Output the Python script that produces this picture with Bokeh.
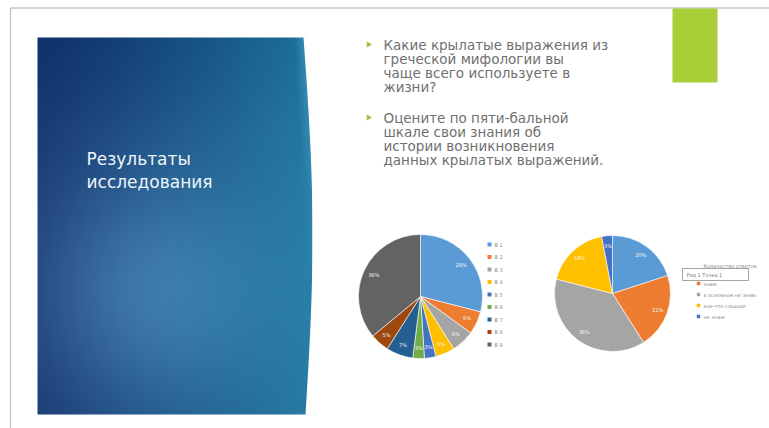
import numpy as np
from bokeh.plotting import figure
from bokeh.models import Range1d, ColumnDataSource
from bokeh.embed import file_html
from bokeh.resources import INLINE
from bokeh.core.properties import value

# ---------------- data ----------------
title_lines = ["Результаты", "исследования"]
bullet1 = ["Какие крылатые выражения из", "греческой мифологии вы",
           "чаще всего используете в", "жизни?"]
bullet2 = ["Оцените по пяти-бальной", "шкале свои знания об",
           "истории  возникновения", "данных крылатых выражений."]

q1_labels = ["В 1", "В 2", "В 3", "В 4", "В 5", "В 6", "В 7", "В 8", "В 9"]
q1_values = [29, 6, 6, 5, 3, 3, 7, 5, 36]

q2_labels = ["знаю всё", "знаю", "в основном не знаю", "кое-что слышал", "не знаю"]
q2_values = [20, 21, 38, 18, 3]

# ---------------- styles ----------------
palette = ["#5B9BD5", "#ED7D31", "#A5A5A5", "#FFC000", "#4472C4",
           "#70AD47", "#255E91", "#9E480E", "#636363"]
FONT = value("DejaVu Sans")
WW, HH = 769, 428


def Y(s):
    return HH - s


p = figure(width=WW, height=HH, x_range=Range1d(0, WW), y_range=Range1d(0, HH),
           output_backend="svg", toolbar_location=None, min_border=0,
           x_axis_type=None, y_axis_type=None)
p.grid.visible = False
p.outline_line_color = None
p.background_fill_color = "white"
p.border_fill_color = "white"

# slide frame
p.segment(x0=[10, 10], y0=[Y(7.5), Y(7.5)], x1=[WW, 10], y1=[Y(7.5), Y(HH)],
          line_color="#c4c4c4", line_width=1.3)

# ---------------- blue panel (gradient image) ----------------
L, R, T, B = 37, 312, 37, 414
W, H = R - L, B - T
xs = np.arange(W) + L + 0.5
ys = B - np.arange(H) - 0.5
XX, YY = np.meshgrid(xs, ys)
t = (XX - L) / W
v = (YY - T) / H
c_left = np.array([24, 56, 114], float)
c_right = np.array([36, 122, 162], float)
tt = (t ** 1.2)[..., None]
col = c_left * (1 - tt) + c_right * tt
d2 = (XX - 140) ** 2 + (YY - 290) ** 2
blob = np.exp(-d2 / (2 * 85 ** 2))[..., None]
col = col + blob * np.array([34, 44, 40])
col = col - (np.clip(0.25 - v, 0, None) * 30)[..., None]


def edge(vv):
    return 303 + 8 * np.sin(np.pi * np.clip(vv, 0, 1)) + 2 * vv


xr = edge(v)
band = np.clip(1 - (xr - XX) / 10, 0, 1) * np.clip(1 - v * 1.5, 0, 1)
col = col + (band * 25)[..., None]
col = np.clip(col, 0, 255)
img = np.zeros((H, W), dtype=np.uint32)
view = img.view(dtype=np.uint8).reshape((H, W, 4))
view[:, :, 0] = col[:, :, 0]
view[:, :, 1] = col[:, :, 1]
view[:, :, 2] = col[:, :, 2]
view[:, :, 3] = 255
p.image_rgba(image=[img], x=L, y=Y(B), dw=W, dh=H)

# white mask to the right of the curved edge
vv = np.linspace(0, 1, 60)
ex = list(edge(vv)) + [R + 5, R + 5]
ey = list(Y(T + vv * H)) + [Y(B + 2), Y(T - 2)]
p.patch(x=ex, y=ey, fill_color="white", line_color=None)

# title
p.text(x=[86, 86], y=[Y(158), Y(181)], text=title_lines, text_color="#eef4fa",
       text_font=FONT, text_font_size="17px", text_baseline="middle", text_align="left")

# green block
p.quad(left=[672], right=[717], top=[Y(8)], bottom=[Y(82)], fill_color="#a8cf38",
       line_color=None)

# bullets
line_h = 14
ys1 = [Y(44 + i * line_h) for i in range(len(bullet1))]
ys2 = [Y(117 + i * line_h) for i in range(len(bullet2))]
p.scatter(x=[368, 368], y=[ys1[0], ys2[0]], marker="triangle", size=6,
          angle=-np.pi / 2, fill_color="#9dc33b", line_color=None)
p.text(x=[383] * 8, y=ys1 + ys2, text=bullet1 + bullet2, text_color="#707070",
       text_font=FONT, text_font_size="13.5px", text_baseline="middle", text_align="left")


# ---------------- pies ----------------
def pie(cx, cy, r, vals, n_colors):
    vals = np.asarray(vals, float)
    cum = np.concatenate([[0], np.cumsum(vals)]) / vals.sum()
    start = np.pi / 2 - 2 * np.pi * cum[:-1]
    end = np.pi / 2 - 2 * np.pi * cum[1:]
    src = ColumnDataSource(dict(start=start, end=end, color=palette[:n_colors]))
    p.wedge(x=cx, y=Y(cy), radius=r, start_angle="start", end_angle="end",
            direction="clock", fill_color="color", line_color="white",
            line_width=0.6, source=src)
    mid = (start + end) / 2
    lx = cx + 0.83 * r * np.cos(mid)
    ly = Y(cy) + 0.83 * r * np.sin(mid)
    labels = [f"{int(round(x))}%" for x in vals / vals.sum() * 100]
    p.text(x=lx, y=ly, text=labels, text_color="#f4f4f4", text_font=FONT,
           text_font_size="5px", text_align="center", text_baseline="middle")


pie(420, 296, 62, q1_values, len(q1_values))
pie(612, 293, 58, q2_values, len(q2_values))

# legend pie 1
ly1 = [Y(244 + 12.5 * i) for i in range(len(q1_labels))]
p.scatter(x=[489] * len(q1_labels), y=ly1, marker="square", size=4,
          fill_color=palette[:len(q1_labels)], line_color=None)
p.text(x=[494] * len(q1_labels), y=ly1, text=q1_labels, text_color="#8a8a8a",
       text_font=FONT, text_font_size="5px", text_baseline="middle", text_align="left")

# legend pie 2
ly2 = [Y(272), Y(283), Y(294), Y(305), Y(316)]
p.scatter(x=[698] * 5, y=ly2, marker="square", size=3.5,
          fill_color=palette[:5], line_color=None)
p.text(x=[703] * 5, y=ly2, text=q2_labels, text_color="#8a8a8a",
       text_font=FONT, text_font_size="5px", text_baseline="middle", text_align="left")
p.text(x=[703], y=[Y(265)], text=["Количество ответов"], text_color="#8a8a8a",
       text_font=FONT, text_font_size="5px", text_baseline="middle", text_align="left")
p.quad(left=[682], right=[748], top=[Y(268)], bottom=[Y(280)], fill_color="white",
       line_color="#8c8c8c", line_width=0.8)
p.text(x=[686], y=[Y(274)], text=["Ряд 1 Точка 1"], text_color="#777777",
       text_font=FONT, text_font_size="5px", text_baseline="middle", text_align="left")

open("out.html", "w").write(file_html(p, INLINE))
